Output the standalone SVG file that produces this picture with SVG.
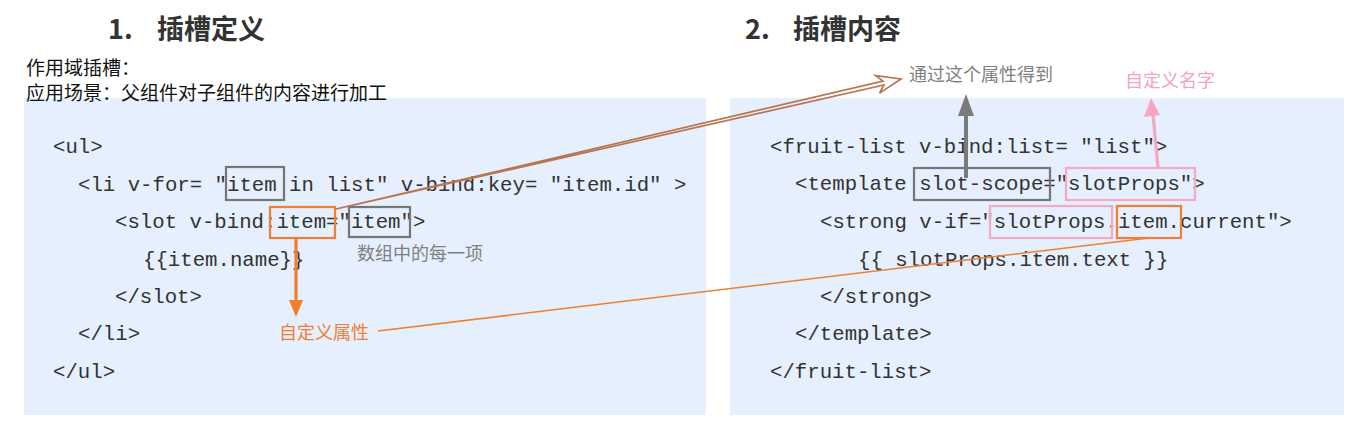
<svg xmlns="http://www.w3.org/2000/svg" width="1358" height="428" viewBox="0 0 1358 428">
<style>
.panel{fill:#e5effd}
.code{font-family:"Liberation Mono","DejaVu Sans Mono",monospace;font-size:20.7px;fill:#333333}
.h{font-family:"Noto Sans CJK SC","Noto Sans",sans-serif;font-size:27px;font-weight:bold;fill:#333333}
.t{font-family:"Noto Sans CJK SC",sans-serif;font-size:19px;fill:#111111}
.lbl{font-family:"Noto Sans CJK SC",sans-serif;font-size:18px}
.gbox{fill:none;stroke:#767676;stroke-width:2.2}
.obox{fill:none;stroke:#f08030;stroke-width:2.2}
.pbox{fill:none;stroke:#f5a9c4;stroke-width:2.2}
</style>
<rect width="1358" height="428" fill="#ffffff"/>
<g id="left-panel">
<rect class="panel" x="24" y="98" width="682" height="317"/>
<text class="h" x="108" y="39">1.<tspan x="157">插槽定义</tspan></text>
<text class="t" x="26" y="75">作用域插槽：</text>
<text class="t" x="26" y="100">应用场景：父组件对子组件的内容进行加工</text>
<text class="code" x="53" y="153">&lt;ul&gt;</text>
<text class="code" x="78" y="191" xml:space="preserve">&lt;li v-for= "item in list" v-bind:key= "item.id" &gt;</text>
<text class="code" x="115" y="228">&lt;slot v-bind:item="item"&gt;</text>
<text class="code" x="143" y="266">{{item.name}}</text>
<text class="code" x="115" y="303">&lt;/slot&gt;</text>
<text class="code" x="78" y="340">&lt;/li&gt;</text>
<text class="code" x="53" y="378">&lt;/ul&gt;</text>
</g>
<g id="right-panel">
<rect class="panel" x="730" y="98" width="614" height="317"/>
<text class="h" x="745" y="39">2.<tspan x="793">插槽内容</tspan></text>
<text class="code" x="770" y="153">&lt;fruit-list v-bind:list= "list"&gt;</text>
<text class="code" x="795" y="190">&lt;template slot-scope="slotProps"&gt;</text>
<text class="code" x="820" y="228">&lt;strong v-if="slotProps.item.current"&gt;</text>
<text class="code" x="858" y="266" xml:space="preserve">{{ slotProps.item.text }}</text>
<text class="code" x="820" y="303">&lt;/strong&gt;</text>
<text class="code" x="795" y="340">&lt;/template&gt;</text>
<text class="code" x="770" y="378">&lt;/fruit-list&gt;</text>
</g>
<g id="highlight-boxes">
<rect class="gbox" x="226" y="167" width="58" height="33"/>
<rect class="obox" x="270" y="207" width="65" height="31"/>
<rect class="gbox" x="349" y="207" width="61" height="30"/>
<rect class="gbox" x="914" y="168" width="136" height="32"/>
<rect class="pbox" x="1066" y="168" width="129" height="32"/>
<rect class="pbox" x="990" y="206" width="122" height="32"/>
<rect class="obox" x="1117" y="206" width="64" height="32"/>
</g>
<g id="labels">
<text class="lbl" x="357" y="260" fill="#808080">数组中的每一项</text>
<text class="lbl" x="279" y="339" fill="#f08030">自定义属性</text>
<text class="lbl" x="909" y="81" fill="#7f7f7f">通过这个属性得到</text>
<text class="lbl" x="1125" y="87" fill="#f5a3c0">自定义名字</text>
</g>
<g id="connectors">
<line x1="296" y1="238" x2="296" y2="302" stroke="#f07f2d" stroke-width="3.2"/>
<polygon points="289,300 303,300 296,317" fill="#f07f2d"/>
<line x1="966" y1="178" x2="966" y2="114" stroke="#7a7a7a" stroke-width="4"/>
<polygon points="958,116 974,116 966,94" fill="#7a7a7a"/>
<line x1="1158" y1="168" x2="1153" y2="114" stroke="#f7a6c1" stroke-width="3.2"/>
<polygon points="1144,117 1160,115 1151,98" fill="#f7a6c1"/>
<line x1="1149" y1="238" x2="378" y2="331" stroke="#f08030" stroke-width="1.6"/>
<path d="M336,209 L883.9,85 L879.6,93.1 L901,79 L875.6,75.6 L883,81.1 Z" fill="none" stroke="#b8764f" stroke-width="1.7" stroke-linejoin="miter"/>
</g>
</svg>
